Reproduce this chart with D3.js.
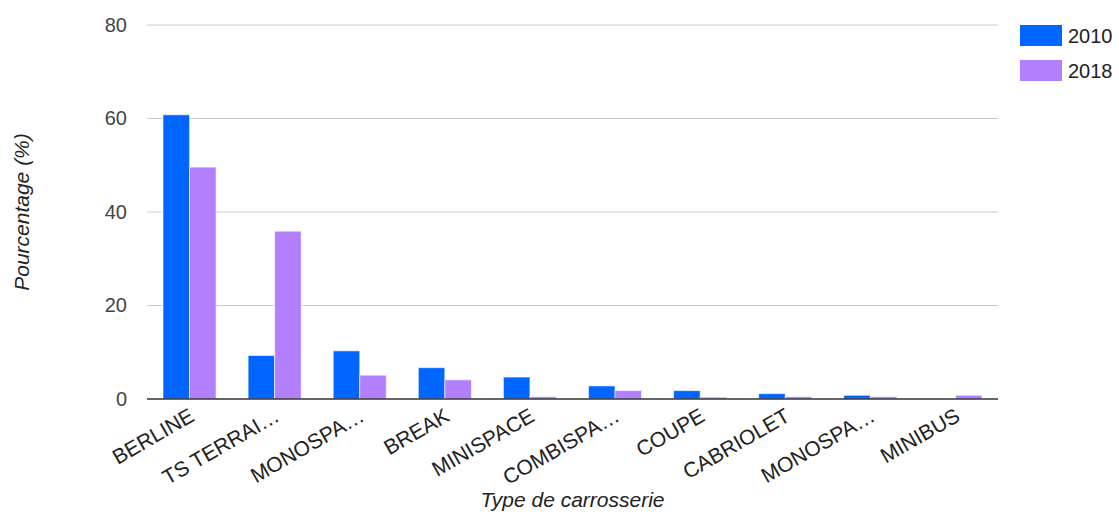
<!DOCTYPE html>
<html>
<head>
<meta charset="utf-8">
<script src="https://cdn.jsdelivr.net/npm/d3@7"></script>
<style>
  body { margin: 0; background: #fff; }
  svg { font-family: "Liberation Sans", Arial, sans-serif; }
</style>
</head>
<body>
<svg width="1119" height="514"></svg>
<script>
// chart data
var categories = ["BERLINE", "TS TERRAI\u2026", "MONOSPA\u2026", "BREAK", "MINISPACE",
                  "COMBISPA\u2026", "COUPE", "CABRIOLET", "MONOSPA\u2026 ", "MINIBUS"];
var seriesNames = ["2010", "2018"];
var values2010 = [60.8, 9.3, 10.3, 6.7, 4.7, 2.8, 1.8, 1.15, 0.8, 0];
var values2018 = [49.6, 35.9, 5.1, 4.1, 0.5, 1.8, 0.4, 0.5, 0.5, 0.8];
var yTicks = [0, 20, 40, 60, 80];
var colors = ["#0066ff", "#b27fff"];

var svg = d3.select("svg"),
  margin = { top: 25, right: 121, bottom: 115, left: 147 },
  width = +svg.attr("width") - margin.left - margin.right,
  height = +svg.attr("height") - margin.top - margin.bottom;

var rows = categories.map(function(c, i) {
  return { cat: c, vals: [values2010[i], values2018[i]] };
});

var x = d3.scaleBand().domain(categories).range([0, width]).paddingInner(0.376).paddingOuter(0.188);
var xs = d3.scaleBand().domain(seriesNames).range([0, x.bandwidth()]);
var y = d3.scaleLinear().domain([0, 80]).range([height, 0]);

var g = svg.append("g")
  .attr("transform", "translate(" + margin.left + "," + margin.top + ")");

// gridlines
g.append("g")
  .selectAll("line")
  .data(yTicks.filter(function(d) { return d > 0; }))
  .enter().append("line")
  .attr("x1", 0).attr("x2", width)
  .attr("y1", function(d) { return y(d); })
  .attr("y2", function(d) { return y(d); })
  .attr("stroke", "#cccccc")
  .attr("stroke-width", 1);

// y axis labels
var yAxis = d3.axisLeft(y).tickValues(yTicks).tickSize(0).tickPadding(20);
g.append("g")
  .call(yAxis)
  .call(function(s) { s.select(".domain").remove(); })
  .selectAll("text")
  .attr("fill", "#444")
  .style("font-size", "20px")
  .style("font-family", "Liberation Sans, Arial, sans-serif");

// bars
var groups = g.selectAll(".grp")
  .data(rows)
  .enter().append("g")
  .attr("class", "grp")
  .attr("transform", function(d) { return "translate(" + x(d.cat) + ",0)"; });

groups.selectAll("rect")
  .data(function(d) { return d.vals.map(function(v, i) { return { s: seriesNames[i], v: v, i: i }; }); })
  .enter().append("rect")
  .filter(function(d) { return d.v > 0; })
  .attr("x", function(d) { return xs(d.s); })
  .attr("y", function(d) { return y(d.v); })
  .attr("width", xs.bandwidth())
  .attr("height", function(d) { return height - y(d.v); })
  .attr("fill", function(d) { return colors[d.i]; })
  .attr("stroke", "#ffffff")
  .attr("stroke-opacity", 0.6)
  .attr("stroke-width", 1);

// baseline
g.append("line")
  .attr("x1", 0).attr("x2", width)
  .attr("y1", y(0)).attr("y2", y(0))
  .attr("stroke", "#333")
  .attr("stroke-width", 1.5);

// x axis labels
var xAxis = d3.axisBottom(x).tickSize(0).tickPadding(0);
g.append("g")
  .attr("transform", "translate(0," + height + ")")
  .call(xAxis)
  .call(function(s) { s.select(".domain").remove(); })
  .selectAll("text")
  .attr("fill", "#222")
  .style("font-size", "21px")
  .style("font-family", "Liberation Sans, Arial, sans-serif")
  .attr("text-anchor", "end")
  .attr("dy", "0")
  .attr("transform", "translate(6,21) rotate(-30)");

// axis titles
svg.append("text")
  .attr("x", margin.left + width / 2)
  .attr("y", 507)
  .attr("text-anchor", "middle")
  .attr("font-style", "italic")
  .attr("font-size", 21)
  .attr("fill", "#222")
  .text("Type de carrosserie");

svg.append("text")
  .attr("transform", "rotate(-90)")
  .attr("x", -(margin.top + height / 2))
  .attr("y", 29)
  .attr("text-anchor", "middle")
  .attr("font-style", "italic")
  .attr("font-size", 21)
  .attr("fill", "#222")
  .text("Pourcentage (%)");

// legend
var legend = svg.append("g").attr("transform", "translate(1020,25)");
var items = legend.selectAll("g")
  .data(seriesNames)
  .enter().append("g")
  .attr("transform", function(d, i) { return "translate(0," + (i * 35) + ")"; });
items.append("rect")
  .attr("width", 42).attr("height", 21)
  .attr("fill", function(d, i) { return colors[i]; });
items.append("text")
  .attr("x", 48).attr("y", 18)
  .attr("font-size", 20)
  .attr("fill", "#222")
  .text(function(d) { return d; });
</script>
</body>
</html>
